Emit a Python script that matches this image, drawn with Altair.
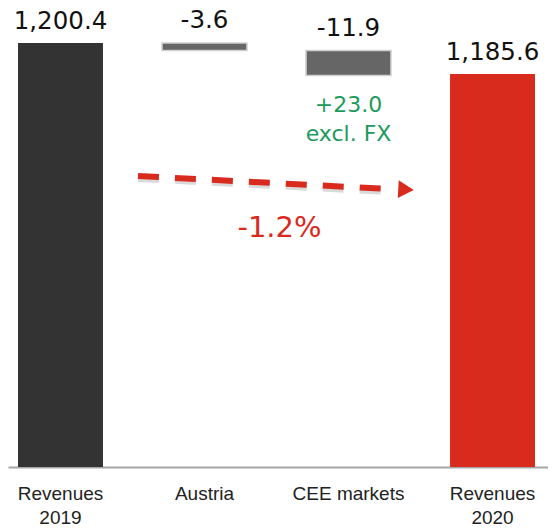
import altair as alt
import pandas as pd

# ---- data ----
categories = ["Revenues 2019", "Austria", "CEE markets", "Revenues 2020"]
values = [1200.4, -3.6, -11.9, 1185.6]
kinds = ["total", "delta", "delta", "total"]
bar_colors = ["#333333", "#666666", "#666666", "#d92a1e"]
fx_note = "+23.0\nexcl. FX"

# annotation arrow (x as fraction of plot width, y in revenue units)
arrow_x = [0.2407, 0.7037]
arrow_y = [1136.9, 1130.7]
arrow_head_x = [0.737]
arrow_head_y = [1130.45]

# ---- layout ----
y_floor = 998.0
y_ceil = 1217.1
W, H = 540, 459

rows = []
running = 0.0
for c, v, k, col in zip(categories, values, kinds, bar_colors):
    if k == "total":
        start, end = y_floor, v
        running = v
        label = f"{v:,.1f}"
    else:
        start, end = running, running + v
        running = running + v
        label = f"{v:.1f}"
    rows.append(dict(cat=c, start=start, end=end, top=max(start, end),
                     bottom=min(start, end), kind=k, color=col, label=label,
                     note=fx_note if c == "CEE markets" else ""))
df = pd.DataFrame(rows)

pct = (values[-1] / values[0] - 1) * 100
pct_text = f"{pct:.1f}%"

xscale = alt.Scale(domain=categories, paddingInner=0.41, paddingOuter=0.0799, align=0.435)
yscale = alt.Scale(domain=[y_floor, y_ceil], zero=False, nice=False)

x_enc = alt.X("cat:N", sort=categories, scale=xscale, title=None,
              axis=alt.Axis(labelAngle=0, ticks=False, tickSize=0, labelPadding=32,
                            labelBaseline="alphabetic",
                            labelExpr="indexof(datum.label, 'Revenues') == 0 ? split(datum.label, ' ') : datum.label",
                            labelFont="Liberation Sans", labelFontSize=19, labelColor="#222222",
                            labelLineHeight=24, domainColor="#a6a6a6", domainWidth=2,
                            grid=False))

base = alt.Chart(df)

totals = base.transform_filter("datum.kind == 'total'").mark_bar().encode(
    x=x_enc,
    y=alt.Y("start:Q", scale=yscale, axis=None),
    y2="end:Q",
    color=alt.Color("color:N", scale=None),
)

deltas = base.transform_filter("datum.kind == 'delta'").mark_bar(
    stroke="#d0d0d0", strokeWidth=1.5).encode(
    x=x_enc,
    y=alt.Y("start:Q", scale=yscale, axis=None),
    y2="end:Q",
    color=alt.Color("color:N", scale=None),
)

total_labels = base.transform_filter("datum.kind == 'total'").mark_text(
    baseline="alphabetic", dy=-14, font="DejaVu Sans", fontSize=24.5, color="#111111").encode(
    x=x_enc, y=alt.Y("top:Q", scale=yscale, axis=None), text="label:N")

delta_labels = base.transform_filter("datum.kind == 'delta'").mark_text(
    baseline="alphabetic", dy=-14.5, font="DejaVu Sans", fontSize=24.5, color="#111111").encode(
    x=x_enc, y=alt.Y("top:Q", scale=yscale, axis=None), text="label:N")

note = base.transform_filter("datum.note != ''").mark_text(
    baseline="alphabetic", dy=37, lineBreak="\n", lineHeight=29,
    font="DejaVu Sans", fontSize=22, color="#1b9a5c").encode(
    x=x_enc, y=alt.Y("bottom:Q", scale=yscale, axis=None), text="note:N")

arrow_df = pd.DataFrame({"ax": arrow_x, "ay": arrow_y})
shadow_df = pd.DataFrame({"ax": arrow_x, "ay": [v - 1.4 for v in arrow_y]})
head_df = pd.DataFrame({"ax": arrow_head_x, "ay": arrow_head_y})
pct_df = pd.DataFrame({"ax": [(arrow_x[0] + 0.75) / 2], "ay": [sum(arrow_y) / 2], "t": [pct_text]})

ax_scale = alt.Scale(domain=[0, 1], nice=False, zero=False)

shadow = alt.Chart(shadow_df).mark_line(
    color="#000000", opacity=0.15, strokeWidth=6, strokeDash=[21, 16]).encode(
    x=alt.X("ax:Q", scale=ax_scale, axis=None),
    y=alt.Y("ay:Q", scale=yscale, axis=None))

arrow = alt.Chart(arrow_df).mark_line(
    color="#d92a1e", strokeWidth=6, strokeDash=[21, 16], strokeCap="butt").encode(
    x=alt.X("ax:Q", scale=ax_scale, axis=None),
    y=alt.Y("ay:Q", scale=yscale, axis=None))

head = alt.Chart(head_df).mark_point(
    shape="triangle-right", filled=True, size=320, angle=3, color="#d92a1e", opacity=1).encode(
    x=alt.X("ax:Q", scale=ax_scale, axis=None),
    y=alt.Y("ay:Q", scale=yscale, axis=None))

pct_label = alt.Chart(pct_df).mark_text(
    baseline="alphabetic", dx=4, dy=54, font="DejaVu Sans", fontSize=29, color="#d92a1e").encode(
    x=alt.X("ax:Q", scale=ax_scale, axis=None),
    y=alt.Y("ay:Q", scale=yscale, axis=None),
    text="t:N")

bars_layer = alt.layer(totals, deltas, total_labels, delta_labels, note)
arrow_layer = alt.layer(shadow, arrow, head, pct_label)

chart = alt.layer(bars_layer, arrow_layer).resolve_scale(x="independent").properties(
    width=W, height=H, padding=0
).configure_view(stroke=None)

chart.save("out.html", embed_options={"renderer": "svg", "actions": False})
